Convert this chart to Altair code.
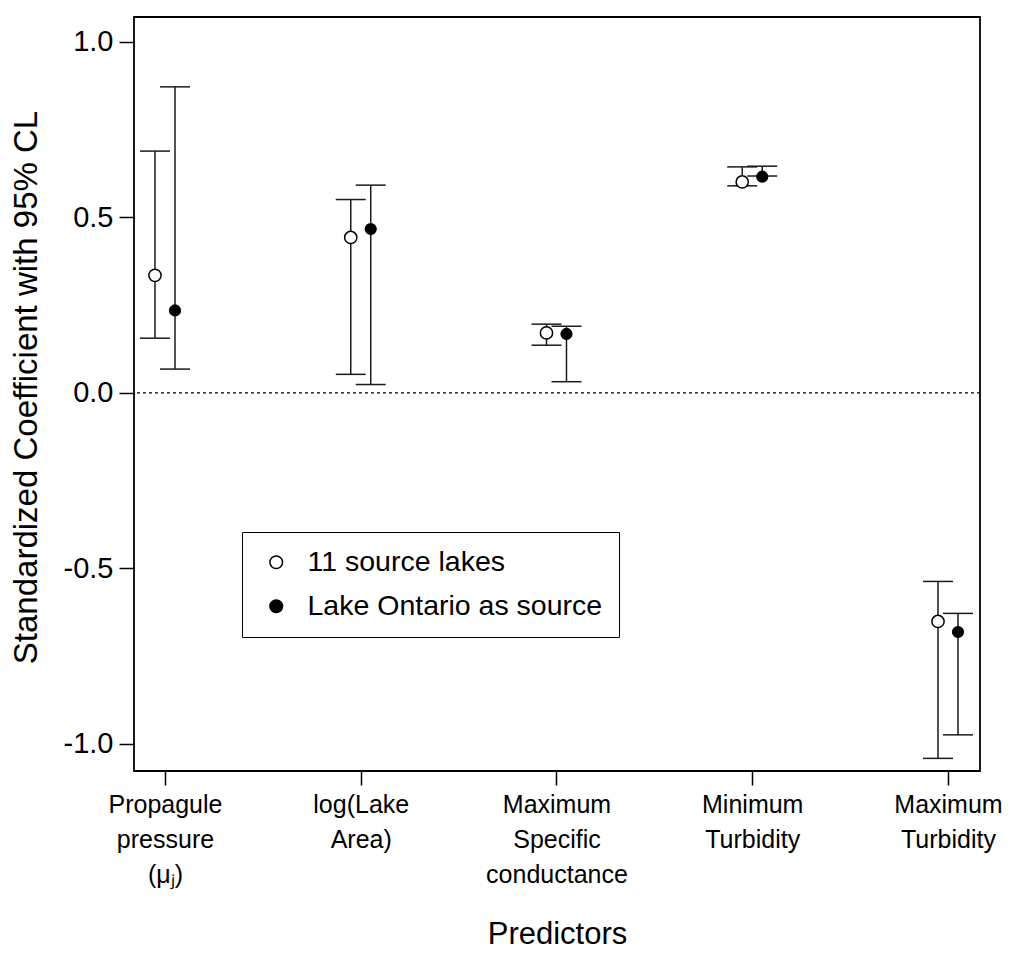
import altair as alt
import pandas as pd

# ---- data ----
positions = [1, 2, 3, 4, 5]
series_names = ["11 source lakes", "Lake Ontario as source"]

open_est = [0.335, 0.443, 0.171, 0.601, -0.651]
open_lo = [0.156, 0.053, 0.136, 0.590, -1.041]
open_hi = [0.689, 0.551, 0.196, 0.644, -0.537]

fill_est = [0.235, 0.467, 0.168, 0.616, -0.681]
fill_lo = [0.068, 0.024, 0.032, 0.618, -0.974]
fill_hi = [0.872, 0.592, 0.190, 0.646, -0.628]

zero_line = [0.0]

FONT = "Liberation Sans, Arial, Helvetica, sans-serif"

rows = []
for i, p in enumerate(positions):
    rows.append({"pos": p, "series": series_names[0], "est": open_est[i], "lo": open_lo[i], "hi": open_hi[i]})
    rows.append({"pos": p, "series": series_names[1], "est": fill_est[i], "lo": fill_lo[i], "hi": fill_hi[i]})
df = pd.DataFrame(rows)

xscale = alt.Scale(domain=[0.8417, 5.1635], nice=False, zero=False)
yscale = alt.Scale(domain=[-1.077, 1.071], nice=False, zero=False)

label_expr = (
    "datum.value == 1 ? ['Propagule', 'pressure', '(\u03bc\u2c7c)'] : "
    "datum.value == 2 ? ['log(Lake', 'Area)'] : "
    "datum.value == 3 ? ['Maximum', 'Specific', 'conductance'] : "
    "datum.value == 4 ? ['Minimum', 'Turbidity'] : "
    "datum.value == 5 ? ['Maximum', 'Turbidity'] : ''"
)

x_enc = alt.X(
    "pos:Q",
    scale=xscale,
    axis=alt.Axis(
        values=positions,
        labelExpr=label_expr,
        title="Predictors",
        titleFontSize=31,
        titleFontWeight="normal",
        titleX=423,
        titleY=163,
        titleBaseline="middle",
        tickSize=14,
        tickWidth=1.5,
        tickColor="black",
        labelFontSize=25,
        labelLineHeight=35,
        labelPadding=7,
        labelBaseline="top",
        labelColor="black",
        domain=False,
        grid=False,
        labelFont=FONT,
        titleFont=FONT,
        titleColor="black",
    ),
)

y_axis = alt.Axis(
    values=[-1.0, -0.5, 0.0, 0.5, 1.0],
    labelExpr="datum.value < 0 ? '-' + format(-datum.value, '.1f') : format(datum.value, '.1f')",
    title="Standardized Coefficient with 95% CL",
    titleFontSize=33,
    titleFontWeight="normal",
    titleX=-108,
    titleY=370,
    titleBaseline="middle",
    titleAngle=-90,
    tickSize=15,
    tickWidth=1.5,
    tickColor="black",
    labelFontSize=29,
    labelPadding=6,
    labelColor="black",
    domain=False,
    grid=False,
    labelFont=FONT,
    titleFont=FONT,
    titleColor="black",
)

fill_enc = alt.Fill(
    "series:N",
    scale=alt.Scale(domain=series_names, range=["white", "black"]),
    legend=alt.Legend(
        title=None,
        orient="none",
        legendX=108,
        legendY=515,
        strokeColor="black",
        fillColor="white",
        padding=16,
        symbolOffset=4,
        labelFontSize=28.5,
        labelFont=FONT,
        labelColor="black",
        labelOffset=17,
        labelLimit=500,
        symbolSize=160,
        symbolType="circle",
        symbolStrokeColor="black",
        symbolStrokeWidth=1.5,
        rowPadding=15,
    ),
)

base = alt.Chart(df)

layers = []
offsets = {series_names[0]: -10, series_names[1]: 10}
sizes = {series_names[0]: 150, series_names[1]: 115}
for s in series_names:
    sub = base.transform_filter(alt.datum.series == s)
    off = offsets[s]
    rule = sub.mark_rule(color="#1a1a1a", strokeWidth=1.5, xOffset=off).encode(
        x=x_enc, y=alt.Y("lo:Q", scale=yscale, axis=y_axis), y2="hi:Q"
    )
    cap_lo = sub.mark_tick(orient="horizontal", size=30, thickness=1.5, color="#1a1a1a", xOffset=off, opacity=1).encode(
        x=x_enc, y=alt.Y("lo:Q", scale=yscale, axis=y_axis)
    )
    cap_hi = sub.mark_tick(orient="horizontal", size=30, thickness=1.5, color="#1a1a1a", xOffset=off, opacity=1).encode(
        x=x_enc, y=alt.Y("hi:Q", scale=yscale, axis=y_axis)
    )
    layers += [rule, cap_lo, cap_hi]

for s in series_names:
    sub = base.transform_filter(alt.datum.series == s)
    pts = sub.mark_point(
        shape="circle", size=sizes[s], stroke="black", strokeWidth=1.5, opacity=1, fillOpacity=1, xOffset=offsets[s]
    ).encode(x=x_enc, y=alt.Y("est:Q", scale=yscale, axis=y_axis), fill=fill_enc)
    layers.append(pts)

zero = alt.Chart(pd.DataFrame({"y": zero_line})).mark_rule(
    color="black", strokeWidth=1.2, strokeDash=[3, 3]
).encode(y=alt.Y("y:Q", scale=yscale, axis=y_axis))

chart = (
    alt.layer(zero, *layers)
    .properties(
        width=846,
        height=754,
        autosize=alt.AutoSizeParams(type="none"),
        padding={"left": 134, "top": 17, "right": 33, "bottom": 183},
        background="white",
    )
    .configure(font=FONT)
    .configure_view(stroke="black", strokeWidth=1.8)
)

chart.save("out.html", embed_options={"renderer": "svg", "actions": False})
